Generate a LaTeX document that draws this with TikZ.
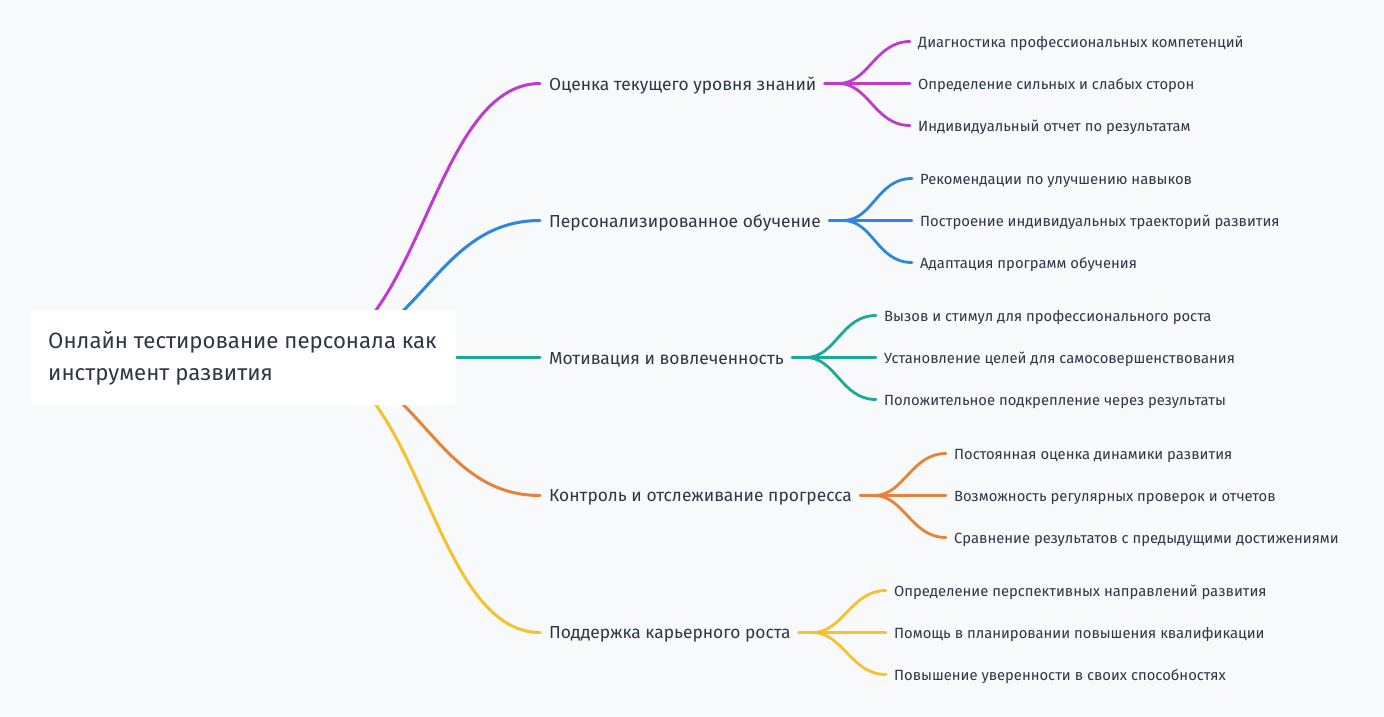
\documentclass[tikz,border=0pt]{standalone}
\usepackage{fontspec}
\setmainfont{Fira Sans}
\definecolor{bg}{HTML}{F8F9FA}
\definecolor{txt}{HTML}{2D3748}
\definecolor{cA}{HTML}{C03AD0}
\definecolor{cB}{HTML}{2E86DE}
\definecolor{cC}{HTML}{1AAA9A}
\definecolor{cD}{HTML}{E8823A}
\definecolor{cE}{HTML}{F5C12E}
\tikzset{
 lbl/.style={anchor=west,inner sep=0pt,text=txt,font=\fontsize{17.4}{20}\selectfont},
 leaf/.style={anchor=west,inner sep=0pt,text=txt,font=\fontsize{14.8}{17}\selectfont},
 br/.style={line width=3pt,line cap=round},
 sub/.style={line width=2.8pt,line cap=round},
}
\begin{document}
\begin{tikzpicture}[x=1pt,y=-1pt]
\fill[bg] (0,0) rectangle (1384,716);
\useasboundingbox (0,0) rectangle (1384,716);
\coordinate (r) at (300,357.5);
\foreach \c/\y/\t/\lx/\la/\lb/\lc [count=\i] in {
 cA/83.5/{Оценка текущего уровня знаний}/918/{Диагностика профессиональных компетенций}/{Определение сильных и слабых сторон}/{Индивидуальный отчет по результатам},
 cB/220.5/{Персонализированное обучение}/920/{Рекомендации по улучшению навыков}/{Построение индивидуальных траекторий развития}/{Адаптация программ обучения},
 cC/357.5/{Мотивация и вовлеченность}/884/{Вызов и стимул для профессионального роста}/{Установление целей для самосовершенствования}/{Положительное подкрепление через результаты},
 cD/495.5/{Контроль и отслеживание прогресса}/954/{Постоянная оценка динамики развития}/{Возможность регулярных проверок и отчетов}/{Сравнение результатов с предыдущими достижениями},
 cE/632.5/{Поддержка карьерного роста}/894/{Определение перспективных направлений развития}/{Помощь в планировании повышения квалификации}/{Повышение уверенности в своих способностях}}
{
 \node[lbl] (n\i) at (549,\y+2) {\t};
 \coordinate (s\i) at (540,\y);
 \draw[br,\c] (r) .. controls (420,357.5) and (430,\y) .. (s\i);
 \coordinate (e\i) at ([xshift=8pt]n\i.east |- s\i);
 \coordinate (f\i) at ([xshift=22pt]n\i.east |- s\i);
 \draw[sub,\c] (e\i) -- (f\i);
 \foreach \d/\tt in {-42/\la,0/\lb,42/\lc}{
  \node[leaf] (m\i\d) at (\lx,\y+\d+2) {\tt};
  \coordinate (g\i\d) at ([xshift=-8pt]m\i\d.west |- 0,\y+\d);
  \draw[sub,\c] (f\i) .. controls ([xshift=30pt]f\i) and ([xshift=-35pt]g\i\d) .. (g\i\d);
 }
}
\node[fill=white,rounded corners=3pt,minimum width=426pt,minimum height=95pt,anchor=north west] (root) at (30,310) {};
\node[anchor=north west,inner sep=0pt,align=left,text=txt,font=\fontsize{22.2}{32}\selectfont] (rt) at (48,331) {Онлайн тестирование персонала как\\инструмент развития};
\end{tikzpicture}
\end{document}
